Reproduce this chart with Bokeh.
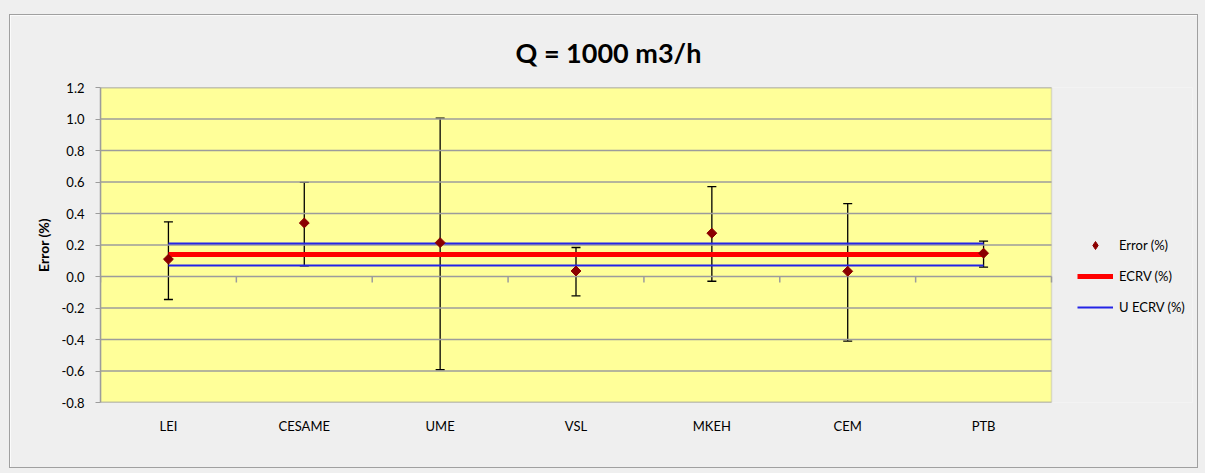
import math
from bokeh.plotting import figure
from bokeh.models import (ColumnDataSource, Range1d, FixedTicker, Whisker, TeeHead,
                          Legend, LegendItem, PrintfTickFormatter, BoxAnnotation)
from bokeh.embed import file_html
from bokeh.resources import INLINE

# ---- data ----
labs = ["LEI", "CESAME", "UME", "VSL", "MKEH", "CEM", "PTB"]
err = [0.11, 0.34, 0.215, 0.035, 0.275, 0.033, 0.148]
err_up = [0.347, 0.597, 1.005, 0.184, 0.571, 0.463, 0.225]
err_lo = [-0.146, 0.068, -0.592, -0.123, -0.030, -0.410, 0.060]
ecrv = 0.14
u_ecrv = 0.07
yticks = [-0.8, -0.6, -0.4, -0.2, 0.0, 0.2, 0.4, 0.6, 0.8, 1.0, 1.2]

FONT = "Lato"
GRID = "#9c9c9c"
BG = "#efefef"
xs = list(range(len(labs)))

# layout: plot area is 951 px wide, the frame extends to the right to host the legend
W, H = 1187, 452
ML, MR, MT, MB = 90, 5, 72, 65
PLOT_W = 951
frame_w = W - ML - MR
x0 = -0.5
x_plot_end = len(labs) - 0.5
x_frame_end = x0 + len(labs) * frame_w / PLOT_W

src = ColumnDataSource(dict(x=xs, y=err, upper=err_up, lower=err_lo))

p = figure(width=W, height=H, output_backend="svg", toolbar_location=None,
           x_range=Range1d(x0, x_frame_end), y_range=Range1d(yticks[0], yticks[-1]),
           min_border_left=ML, min_border_right=MR, min_border_top=MT, min_border_bottom=MB)
p.margin = (15, 0, 0, 10)
p.styles = {"outline": "1px solid #a0a0a0", "box-shadow": "0 0 0 30px #efefef"}
p.background_fill_color = BG
p.border_fill_color = BG
p.outline_line_color = None

# plot area (yellow) with grey border
p.add_layout(BoxAnnotation(left=x0, right=x_plot_end, bottom=yticks[0], top=yticks[-1],
                           fill_color="#ffff99", fill_alpha=1, line_color=GRID,
                           line_width=1.5, level="image"))

# title
p.title.text = "Q = 1000 m3/h"
p.title.text_font = FONT
p.title.text_font_style = "bold"
p.title.text_font_size = "27px"
p.title.text_color = "black"
p.title.align = "left"
p.title.offset = 415
p.title.standoff = 37

# horizontal grid lines limited to the plot area
p.xgrid.visible = False
p.ygrid.visible = False
p.segment(x0=[x0] * len(yticks), x1=[x_plot_end] * len(yticks), y0=yticks, y1=yticks,
          line_color=GRID, line_width=1.5)

# y axis
ya = p.yaxis[0]
ya.ticker = FixedTicker(ticks=yticks)
ya.formatter = PrintfTickFormatter(format="%.1f")
ya.axis_line_color = GRID
ya.axis_line_width = 1.5
ya.major_tick_line_color = GRID
ya.major_tick_out = 5
ya.major_tick_in = 0
ya.minor_tick_line_color = None
ya.major_label_text_font = FONT
ya.major_label_text_font_size = "13px"
ya.major_label_text_color = "black"
ya.major_label_standoff = 11
ya.axis_label = "Error (%)"
ya.axis_label_text_font = FONT
ya.axis_label_text_font_style = "bold"
ya.axis_label_text_font_size = "14px"
ya.axis_label_text_color = "black"
ya.axis_label_standoff = 7

# x axis (labels only, below frame)
xa = p.xaxis[0]
xa.ticker = FixedTicker(ticks=xs)
xa.major_label_overrides = {i: l for i, l in enumerate(labs)}
xa.axis_line_color = None
xa.major_tick_line_color = None
xa.minor_tick_line_color = None
xa.major_label_text_font = FONT
xa.major_label_text_font_size = "13px"
xa.major_label_text_color = "black"
xa.major_label_standoff = 9

# category tick marks on the zero line (between categories)
bounds = [i + 0.5 for i in range(-1, len(labs))]
p.segment(x0=bounds, x1=bounds, y0=[0] * len(bounds), y1=[-0.038] * len(bounds),
          line_color=GRID, line_width=1.5)

# error bars
wh = Whisker(base="x", upper="upper", lower="lower", source=src, dimension="height",
             line_color="black", line_width=1.3,
             upper_head=TeeHead(size=9, line_color="black", line_width=1.3),
             lower_head=TeeHead(size=9, line_color="black", line_width=1.3))
p.add_layout(wh)

# ECRV lines
x_line = [xs[0], xs[-1]]
r_ecrv = p.line(x_line, [ecrv, ecrv], line_color="#ff0000", line_width=5)
r_u1 = p.line(x_line, [ecrv + u_ecrv] * 2, line_color="#2424e6", line_width=2)
p.line(x_line, [ecrv - u_ecrv] * 2, line_color="#2424e6", line_width=2)

# points (diamonds)
p.scatter("x", "y", source=src, marker="square", size=7, angle=math.pi / 4,
          fill_color="#8b0000", line_color="#8b0000", line_width=1)
# legend-only diamond glyph (one non-drawn point)
r_err_leg = p.scatter(x=[xs[0]], y=[float("nan")], marker="diamond", size=11,
                      fill_color="#8b0000", line_color="#8b0000")

legend = Legend(items=[LegendItem(label="Error (%)", renderers=[r_err_leg]),
                       LegendItem(label="ECRV (%)", renderers=[r_ecrv]),
                       LegendItem(label="U ECRV (%)", renderers=[r_u1])],
                location=(977, 85), orientation="vertical")
legend.background_fill_alpha = 0
legend.border_line_color = None
legend.label_text_font = FONT
legend.label_text_font_size = "13px"
legend.label_text_color = "black"
legend.glyph_width = 36
legend.glyph_height = 20
legend.spacing = 11
legend.padding = 0
legend.margin = 0
legend.label_standoff = 6
p.add_layout(legend, "center")

open("out.html", "w").write(file_html(p, INLINE))
